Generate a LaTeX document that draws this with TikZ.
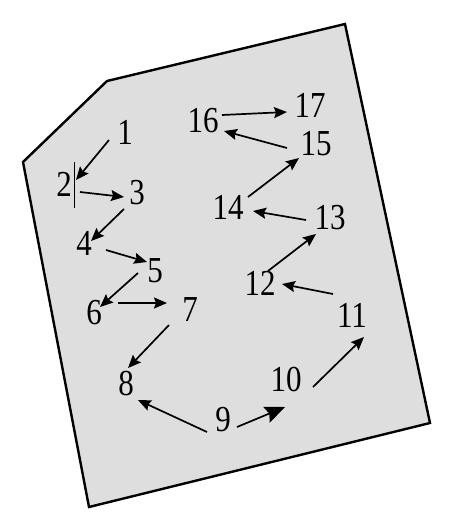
\documentclass[tikz,border=0pt]{standalone}
\usepackage{fontspec}
\usepackage{graphicx}
\setmainfont{Liberation Serif}
\usetikzlibrary{arrows.meta,calc}
\definecolor{pagefill}{RGB}{222,222,222}
\newcommand{\tallnum}[1]{\scalebox{1}[1.18]{#1}}

\begin{document}
\begin{tikzpicture}[x=1pt,y=-1pt,
  num/.style={font=\fontsize{31}{31}\selectfont, inner sep=2pt},
  hop/.style={line width=1.7pt, -{Stealth[length=13pt,width=11pt,inset=2pt]}}]
\useasboundingbox (0,0) rectangle (450,531);
% outline of the sheet
\draw [line width=2.4pt, fill=pagefill, line join=miter] (23,162)--(107,81)--(345,24)--(430,423)--(89,507)--cycle;
% the numbered points
\node[num] (n1)  at (125,132) {\tallnum{1}};
\node[num] (n2)  at (64,184)  {\tallnum{2}};
\node[num] (n3)  at (137,193) {\tallnum{3}};
\node[num] (n4)  at (84,243)  {\tallnum{4}};
\node[num] (n5)  at (155,271) {\tallnum{5}};
\node[num] (n6)  at (94,313)  {\tallnum{6}};
\node[num] (n7)  at (190,310) {\tallnum{7}};
\node[num] (n8)  at (126,384) {\tallnum{8}};
\node[num] (n9)  at (223,420) {\tallnum{9}};
\node[num] (n10) at (286,380) {\tallnum{10}};
\node[num] (n11) at (352,315) {\tallnum{11}};
\node[num] (n12) at (260,283) {\tallnum{12}};
\node[num] (n13) at (330,218) {\tallnum{13}};
\node[num] (n14) at (228,207) {\tallnum{14}};
\node[num] (n15) at (316,144) {\tallnum{15}};
\node[num] (n16) at (203,121) {\tallnum{16}};
\node[num] (n17) at (310,105) {\tallnum{17}};
\draw [line width=0.8pt] ($(n2)+(10,-22)$) -- ($(n2)+(10,24)$);
% the path
\draw [hop] ($(n1)+(-16,8)$)  -- ($(n2)+(12,-4)$);
\draw [hop] ($(n2)+(16,8)$)   -- ($(n3)+(-13,4)$);
\draw [hop] ($(n3)+(-13,16)$) -- ($(n4)+(7,-2)$);
\draw [hop] ($(n4)+(22,7)$)   -- ($(n5)+(-8,-9)$);
\draw [hop] ($(n5)+(-17,2)$)  -- ($(n6)+(6,-6)$);
\draw [hop] ($(n6)+(24,-10)$) -- ($(n7)+(-23,-7)$);
\draw [hop] ($(n7)+(-21,15)$) -- ($(n8)+(2,-16)$);
\draw [hop] ($(n9)+(-16,12)$) -- ($(n8)+(12,16)$);
\draw [line width=1.7pt, -{Stealth[length=20pt,width=17pt,inset=3pt]}]
  ($(n9)+(14,7)$) -- ($(n10)+(-1,27)$);
\draw [hop] ($(n10)+(27,7)$)   -- ($(n11)+(12,22)$);
\draw [hop] ($(n11)+(-19,-21)$) -- ($(n12)+(22,1)$);
\draw [hop] ($(n12)+(8,-12)$)  -- ($(n13)+(-14,16)$);
\draw [hop] ($(n13)+(-24,2)$)  -- ($(n14)+(25,4)$);
\draw [hop] ($(n14)+(20,-10)$) -- ($(n15)+(-17,14)$);
\draw [hop] ($(n15)+(-29,4)$)  -- ($(n16)+(21,10)$);
\draw [hop] ($(n16)+(19,-6)$)  -- ($(n17)+(-23,7)$);
\end{tikzpicture}
\end{document}
